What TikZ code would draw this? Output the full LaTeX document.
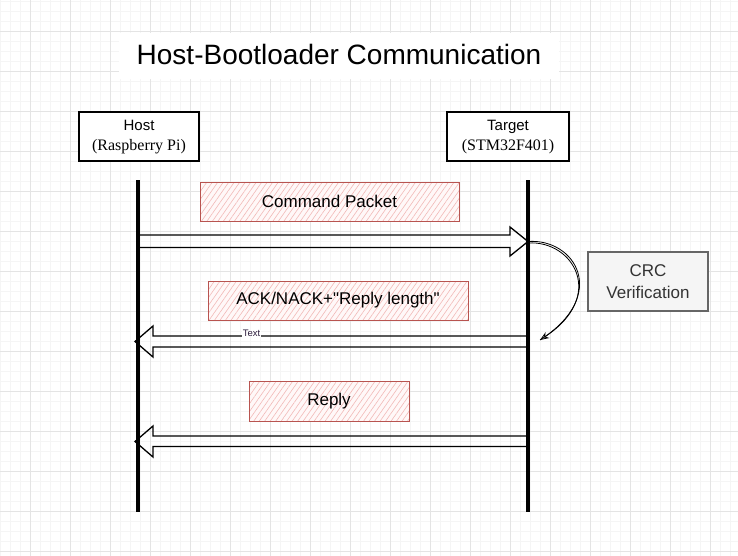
\documentclass[tikz,border=0pt]{standalone}
\usepackage{fontspec}
\setmainfont[Ligatures=TeXOff]{Liberation Sans}
\newfontfamily\serifrm{Liberation Serif}
\usetikzlibrary{arrows.meta,patterns.meta,calc}
\definecolor{gridminor}{HTML}{F5F5F5}
\definecolor{gridmajor}{HTML}{E4E4E4}
\definecolor{redstroke}{HTML}{B85450}
\definecolor{hatch}{HTML}{F2B9B7}
\definecolor{hatchbg}{HTML}{FFF8F8}
\definecolor{graystroke}{HTML}{666666}
\definecolor{grayfill}{HTML}{F5F5F5}
\definecolor{graytext}{HTML}{333333}
\definecolor{lbl}{HTML}{2B1B3B}
\tikzset{
  actor/.style={draw=black, line width=1.4pt, fill=white, minimum width=120pt,
    minimum height=49pt, align=center, inner sep=0pt, font=\fontsize{15}{20.5}\selectfont},
  msgbox/.style={draw=redstroke, line width=1pt, preaction={fill=hatchbg},
    pattern={Lines[angle=55,distance=4.5pt,line width=0.6pt]}, pattern color=hatch,
    minimum height=39pt, inner sep=0pt, font=\fontsize{17}{20}\selectfont},
  notebox/.style={draw=graystroke, line width=1.1pt, fill=grayfill, minimum width=120pt,
    minimum height=59pt, align=center, inner sep=0pt, text=graytext,
    font=\fontsize{17}{22}\selectfont},
  lifeline/.style={line width=3.2pt, black},
  flex/.style={line width=1.3pt, black, line join=miter},
  gminor/.style={gridminor, line width=0.5pt},
  gmajor/.style={gridmajor, line width=0.8pt},
}
\begin{document}
\begin{tikzpicture}[x=1pt,y=-1pt]
\useasboundingbox (0,0) rectangle (738,556);
\fill[white] (0,0) rectangle (738,556);
% grid
\foreach \x in {0,10,...,730} \draw[gminor] (\x,0) -- (\x,556);
\foreach \y in {1.7,11.7,...,552} \draw[gminor] (0,\y) -- (738,\y);
\foreach \x in {30,70,...,730} \draw[gmajor] (\x,0) -- (\x,556);
\foreach \y in {31.7,71.7,...,552} \draw[gmajor] (0,\y) -- (738,\y);
% title
\fill[white] (119,33) rectangle (559,79);
\node[anchor=base, inner sep=0pt, font=\fontsize{28}{32}\selectfont] (title) at (339,65) {Host-Bootloader Communication};
% actors
\node[actor] (host) at (139,136.5) {\raisebox{0pt}[11pt][4pt]{Host}\\\serifrm\fontsize{16}{20.5}\selectfont (Raspberry Pi)};
\node[actor, minimum width=122pt] (target) at (508,136.5) {\raisebox{0pt}[11pt][4pt]{Target}\\\serifrm\fontsize{16}{20.5}\selectfont (STM32F401)};
% lifelines
\coordinate (hTop) at (138,180);
\coordinate (hBot) at (138,512);
\coordinate (tTop) at (528,180);
\coordinate (tBot) at (528,512);
\draw[lifeline] (hTop) -- (hBot);
\draw[lifeline] (tTop) -- (tBot);
% message labels
\node[msgbox, minimum width=259pt] (cmd) at (329.5,201.5) {Command Packet};
\node[msgbox, minimum width=260pt] (ack) at (338,300.5) {ACK/NACK+"Reply length"};
\node[msgbox, minimum width=160pt, minimum height=40pt] (reply) at (329,401) {Reply};
% CRC note
\node[notebox] (crc) at (648,281.5) {CRC\\Verification};
% arrow 1: host -> target
\coordinate (h1) at (138,241.5);
\coordinate (t1) at (528,241.5);
\draw[flex] ($(h1)+(0,-6.5)$) -- ($(t1)+(-18,-6.5)$) -- ($(t1)+(-18,-14.5)$) -- (t1)
  -- ($(t1)+(-18,14.5)$) -- ($(t1)+(-18,6)$) -- ($(h1)+(0,6)$);
% curved arrow to CRC check
\coordinate (crcEnd) at (540,340);
\draw[line width=0.8pt] (t1) .. controls (575,238) and (610,295) .. (crcEnd);
\draw[line width=0.8pt, -{Stealth[open, length=9pt, width=7pt]}] ($(t1)+(0,1.5)$) .. controls (573,240) and (607,296) .. (crcEnd);
% arrow 2: target -> host
\coordinate (t2) at (527,341.5);
\coordinate (h2) at (135,341.5);
\draw[flex] ($(t2)+(0,-5.5)$) -- ($(h2)+(18,-5.5)$) -- ($(h2)+(18,-15.5)$) -- (h2)
  -- ($(h2)+(18,15.5)$) -- ($(h2)+(18,5.5)$) -- ($(t2)+(0,5.5)$);
\node[fill=white, inner sep=0.6pt, text=lbl, font=\fontsize{9.5}{10}\selectfont] (txt) at (251.5,333.5) {Text};
% arrow 3: target -> host
\coordinate (t3) at (527,441.5);
\coordinate (h3) at (135,441.5);
\draw[flex] ($(t3)+(0,-5.5)$) -- ($(h3)+(18,-5.5)$) -- ($(h3)+(18,-15.5)$) -- (h3)
  -- ($(h3)+(18,15.5)$) -- ($(h3)+(18,5)$) -- ($(t3)+(0,5)$);
\end{tikzpicture}
\end{document}
